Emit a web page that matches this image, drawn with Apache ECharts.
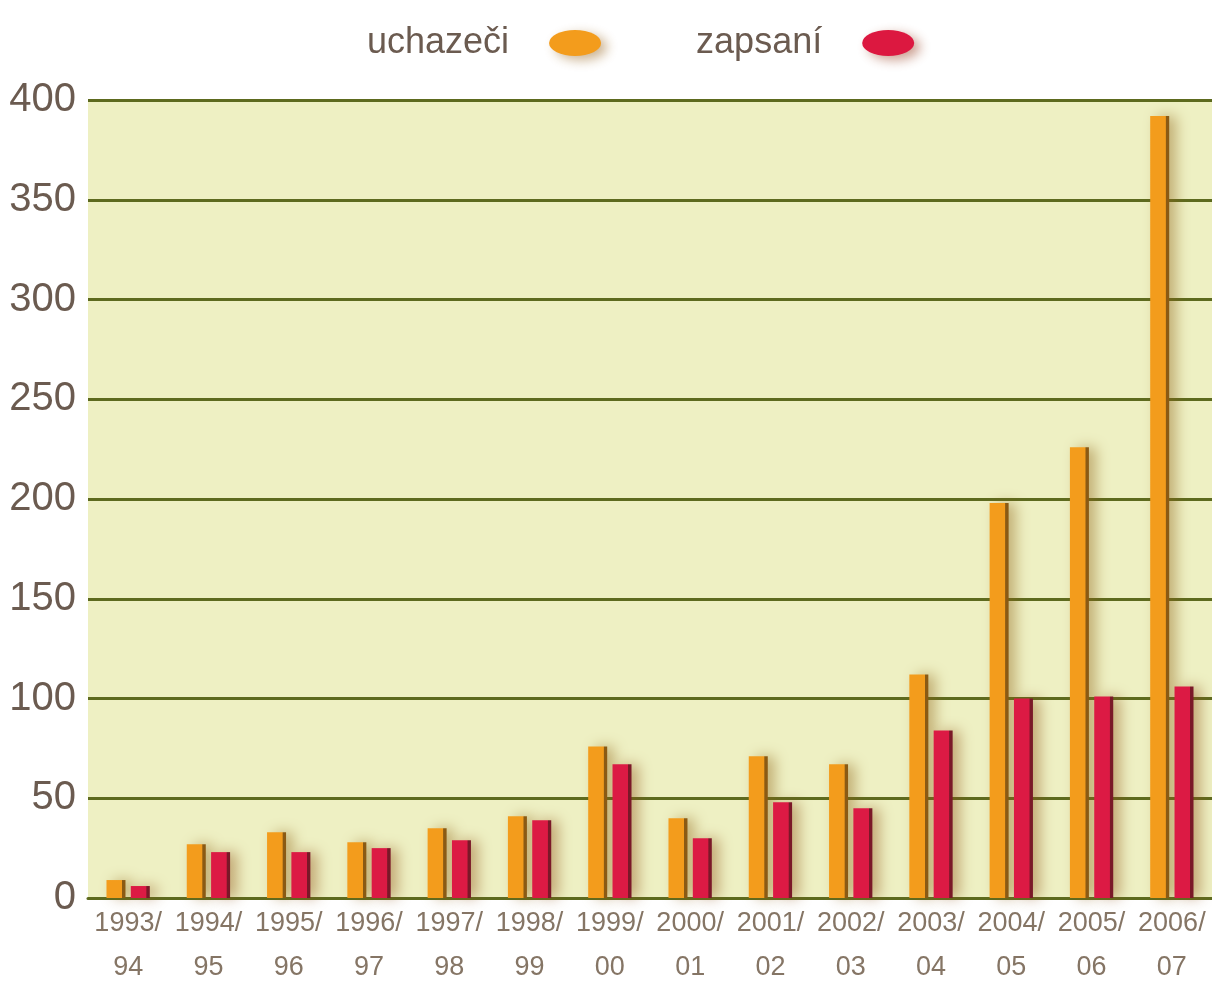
<!DOCTYPE html>
<html>
	<head>
	<meta charset="utf-8">
	<title>uchazeči a zapsaní</title>
	<script src="https://cdn.jsdelivr.net/npm/echarts/dist/echarts.min.js" charset="utf-8"></script>
	<style>
		html,body{width:100%;height:100%;margin:0;padding:0}
		body{background:#FFFFFF}
		#main{width:1212px;height:983px}
	</style>
	</head>
	<body>
		<div id="main"></div>
	<script type="text/javascript">
		// data
		var roky = ['1993/94','1994/95','1995/96','1996/97','1997/98','1998/99','1999/00','2000/01','2001/02','2002/03','2003/04','2004/05','2005/06','2006/07'];
		var uchazeci = [9, 27, 33, 28, 35, 41, 76, 40, 71, 67, 112, 198, 226, 392];
		var zapsani = [6, 23, 23, 25, 29, 39, 67, 30, 48, 45, 84, 100, 101, 106];
		var osaY = [0, 50, 100, 150, 200, 250, 300, 350, 400];

		var cara = '#5d6a1e';
		var text = '#6b5b50';
		var elipsa = 'path://M50,0A50,25,0,1,1,50,50A50,25,0,1,1,50,0Z';

		// svisle pruhy s tmavou pravou hranou
		function sloupec(barva, tmava){
			return new echarts.graphic.LinearGradient(0, 0, 1, 0, [
				{offset: 0, color: barva},
				{offset: 0.8, color: barva},
				{offset: 0.84, color: tmava},
				{offset: 1, color: tmava}
			]);
		}

		var myChart = echarts.init(document.getElementById('main'));
		var option = {
			animation: false,
			legend: {
				left: 362,
				top: 20,
				align: 'right',
				itemWidth: 52,
				itemHeight: 28,
				itemGap: 95,
				textStyle: {
					fontFamily: 'Liberation Sans',
					fontSize: 36,
					color: text,
					padding: [0, 35, 0, 0]
				},
				data: [
					{name: 'uchazeči', icon: elipsa, itemStyle: {color: '#f39c1c', shadowBlur: 12, shadowColor: 'rgba(150,100,30,0.5)', shadowOffsetX: 6, shadowOffsetY: 4}},
					{name: 'zapsaní', icon: elipsa, itemStyle: {color: '#dc1840', shadowBlur: 12, shadowColor: 'rgba(150,60,30,0.5)', shadowOffsetX: 6, shadowOffsetY: 4}}
				]
			},
			grid: {
				left: 88,
				right: 0,
				top: 100,
				bottom: 85,
				outerBoundsMode: 'none',
				containLabel: false,
				show: true,
				backgroundColor: '#eef0c3',
				borderWidth: 0
			},
			xAxis: {
				type: 'category',
				data: roky,
				axisTick: {show: false},
				axisLine: {lineStyle: {color: cara, width: 3}},
				axisLabel: {
					interval: 0,
					margin: 4,
					fontFamily: 'Liberation Sans',
					fontSize: 27,
					lineHeight: 44,
					color: '#857565',
					formatter: function(v){
						return v.replace('/', '/\n');
					}
				}
			},
			yAxis: {
				type: 'value',
				min: osaY[0],
				max: osaY[osaY.length - 1],
				interval: 50,
				axisLine: {show: false},
				axisTick: {show: false},
				axisLabel: {
					margin: 12,
					fontFamily: 'Liberation Sans',
					fontSize: 40,
					color: text
				},
				splitLine: {lineStyle: {color: cara, width: 3}}
			},
			series: [
				{
					name: 'uchazeči',
					type: 'bar',
					barWidth: 19,
					barGap: '28%',
					data: uchazeci,
					itemStyle: {
						color: sloupec('#f39c1c', '#8a5a14'),
						shadowBlur: 14,
						shadowColor: 'rgba(140,95,20,0.45)',
						shadowOffsetX: 7
					}
				},
				{
					name: 'zapsaní',
					type: 'bar',
					barWidth: 19,
					data: zapsani,
					itemStyle: {
						color: sloupec('#dc1a44', '#7a1828'),
						shadowBlur: 14,
						shadowColor: 'rgba(140,80,20,0.45)',
						shadowOffsetX: 7
					}
				}
			]
		};
		myChart.setOption(option);
	</script>
	</body>
</html>
